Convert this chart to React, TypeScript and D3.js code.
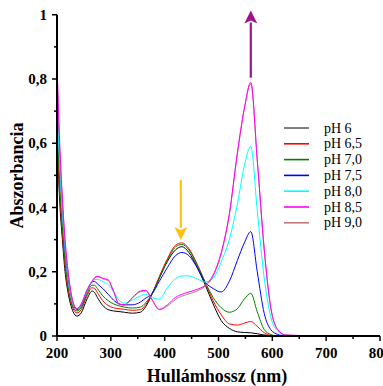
import React from "react";
import * as d3 from "d3";

const wavelengths = [200,205,210,215,220,225,230,237,245,255,265,270,275,285,295,305,315,325,340,355,365,376,390,405,420,432,445,460,475,490,505,520,535,548,560,572,585,597,610,625,700,800];

const pH60 = [0.62,0.42,0.30,0.20,0.14,0.10,0.075,0.062,0.072,0.112,0.14,0.135,0.12,0.095,0.082,0.078,0.076,0.074,0.071,0.074,0.092,0.128,0.18,0.232,0.268,0.278,0.26,0.215,0.16,0.1,0.048,0.024,0.013,0.011,0.01,0.007,0.003,0.001,0,0,0,0];
const pH65 = [0.64,0.45,0.32,0.22,0.15,0.11,0.085,0.072,0.082,0.122,0.15,0.148,0.135,0.11,0.095,0.088,0.085,0.083,0.08,0.082,0.098,0.13,0.185,0.24,0.282,0.29,0.272,0.225,0.168,0.11,0.066,0.038,0.034,0.04,0.045,0.03,0.01,0.002,0,0,0,0];
const pH70 = [0.67,0.47,0.34,0.23,0.16,0.115,0.09,0.078,0.088,0.128,0.158,0.158,0.148,0.125,0.11,0.1,0.094,0.09,0.087,0.09,0.104,0.13,0.18,0.235,0.277,0.285,0.268,0.222,0.168,0.12,0.088,0.074,0.085,0.115,0.133,0.075,0.02,0.005,0,0,0,0];
const pH75 = [0.78,0.55,0.40,0.27,0.19,0.135,0.1,0.082,0.094,0.138,0.168,0.17,0.162,0.148,0.13,0.112,0.1,0.097,0.097,0.106,0.118,0.13,0.17,0.213,0.25,0.26,0.25,0.214,0.168,0.148,0.137,0.17,0.235,0.29,0.325,0.2,0.07,0.02,0.005,0,0,0];
const pH80 = [0.74,0.54,0.40,0.28,0.2,0.14,0.1,0.085,0.098,0.142,0.17,0.176,0.176,0.17,0.16,0.138,0.112,0.102,0.112,0.125,0.13,0.12,0.115,0.15,0.178,0.187,0.187,0.178,0.168,0.18,0.23,0.3,0.41,0.53,0.59,0.39,0.18,0.06,0.015,0.002,0,0];
const pH85 = [0.85,0.60,0.43,0.30,0.21,0.145,0.105,0.085,0.1,0.14,0.17,0.182,0.186,0.18,0.175,0.14,0.1,0.097,0.12,0.14,0.142,0.115,0.083,0.097,0.12,0.13,0.137,0.145,0.158,0.19,0.26,0.38,0.57,0.71,0.79,0.55,0.27,0.09,0.02,0.003,0,0];
const pH90 = [0.83,0.59,0.42,0.295,0.205,0.142,0.103,0.084,0.098,0.138,0.168,0.18,0.184,0.178,0.172,0.138,0.099,0.096,0.118,0.138,0.14,0.113,0.082,0.093,0.114,0.124,0.131,0.14,0.155,0.186,0.255,0.375,0.565,0.705,0.785,0.545,0.265,0.088,0.02,0.003,0,0];

const seriesNames = ["pH 6","pH 6,5","pH 7,0","pH 7,5","pH 8,0","pH 8,5","pH 9,0"];
const seriesValues = [pH60,pH65,pH70,pH75,pH80,pH85,pH90];
const seriesColors = ["#000000","#ff0000","#008000","#0000ff","#00ffff","#ff00ff","#c07a7a"];
const drawOrder = [0,1,2,3,4,6,5];

const xTicks = [200,300,400,500,600,700,800];
const xMinor = [250,350,450,550,650,750];
const yTicks = [0,0.2,0.4,0.6,0.8,1];
const yTickLabels = ["0","0,2","0,4","0,6","0,8","1"];
const yMinor = [0.1,0.3,0.5,0.7,0.9];

// arrows: [wavelength, from absorbance, to absorbance]
const downArrow = [430, 0.486, 0.299];
const upArrow = [560, 0.804, 1.013];

export default function App() {
  const W = 383, H = 386;
  const x = d3.scaleLinear().domain([200, 800]).range([57, 380]);
  const y = d3.scaleLinear().domain([0, 1]).range([336, 14.75]);
  const line = d3.line<number>()
    .x((_, i) => x(wavelengths[i]))
    .y((d) => y(d))
    .curve(d3.curveMonotoneX);

  const font = "'Liberation Serif', 'Times New Roman', serif";

  const arrow = (a: number[], color: string) => {
    const ax = x(a[0]);
    const y0 = y(a[1]);
    const y1 = y(a[2]);
    const dir = y1 > y0 ? 1 : -1;
    const headLen = 12;
    const hw = 6.5;
    const baseY = y1 - dir * headLen;
    return (
      <g>
        <line x1={ax} y1={y0} x2={ax} y2={baseY} stroke={color} strokeWidth={2.2} />
        <path d={`M${ax},${y1} L${ax - hw},${baseY - dir * 1} L${ax},${baseY + dir * 2} L${ax + hw},${baseY - dir * 1} Z`} fill={color} />
      </g>
    );
  };

  return (
    <svg width={W} height={H} style={{ position: "absolute", left: 0, top: 0, display: "block", background: "#fff" }} fontFamily={font}>
      {drawOrder.map((si) => (
        <path key={si} d={line(seriesValues[si]) || ""} fill="none" stroke={seriesColors[si]} strokeWidth={1} />
      ))}
      {arrow(downArrow, "#ffc20e")}
      {arrow(upArrow, "#9e138f")}
      {/* axes */}
      <line x1={x(200)} y1={y(0)} x2={x(800)} y2={y(0)} stroke="#000" strokeWidth={2} />
      <line x1={x(200)} y1={y(0)} x2={x(200)} y2={y(1)} stroke="#000" strokeWidth={2} />
      {xTicks.map((t) => (
        <g key={"xt" + t}>
          <line x1={x(t)} x2={x(t)} y1={y(0)} y2={y(0) + 5} stroke="#000" strokeWidth={1.5} />
          <text x={x(t)} y={358} textAnchor="middle" fontWeight="bold" fontSize={15}>{t}</text>
        </g>
      ))}
      {xMinor.map((t) => (
        <line key={"xm" + t} x1={x(t)} x2={x(t)} y1={y(0)} y2={y(0) + 3} stroke="#000" strokeWidth={1.5} />
      ))}
      {yTicks.map((t, i) => (
        <g key={"yt" + t}>
          <line x1={x(200) - 5} x2={x(200)} y1={y(t)} y2={y(t)} stroke="#000" strokeWidth={1.5} />
          <text x={47} y={y(t) + 5} textAnchor="end" fontWeight="bold" fontSize={15}>{yTickLabels[i]}</text>
        </g>
      ))}
      {yMinor.map((t) => (
        <line key={"ym" + t} x1={x(200) - 3} x2={x(200)} y1={y(t)} y2={y(t)} stroke="#000" strokeWidth={1.5} />
      ))}
      <text x={217} y={382} textAnchor="middle" fontWeight="bold" fontSize={18}>Hullámhossz (nm)</text>
      <text transform="translate(23,175.5) rotate(-90)" textAnchor="middle" fontWeight="bold" fontSize={18}>Abszorbancia</text>
      {/* legend */}
      {seriesNames.map((n, i) => {
        const ly = 128 + i * 15.8;
        return (
          <g key={n}>
            <line x1={284} x2={309} y1={ly} y2={ly} stroke={seriesColors[i]} strokeWidth={i === 0 ? 1 : 1.6} />
            <text x={324} y={ly + 4.5} fontSize={14}>{n}</text>
          </g>
        );
      })}
    </svg>
  );
}
